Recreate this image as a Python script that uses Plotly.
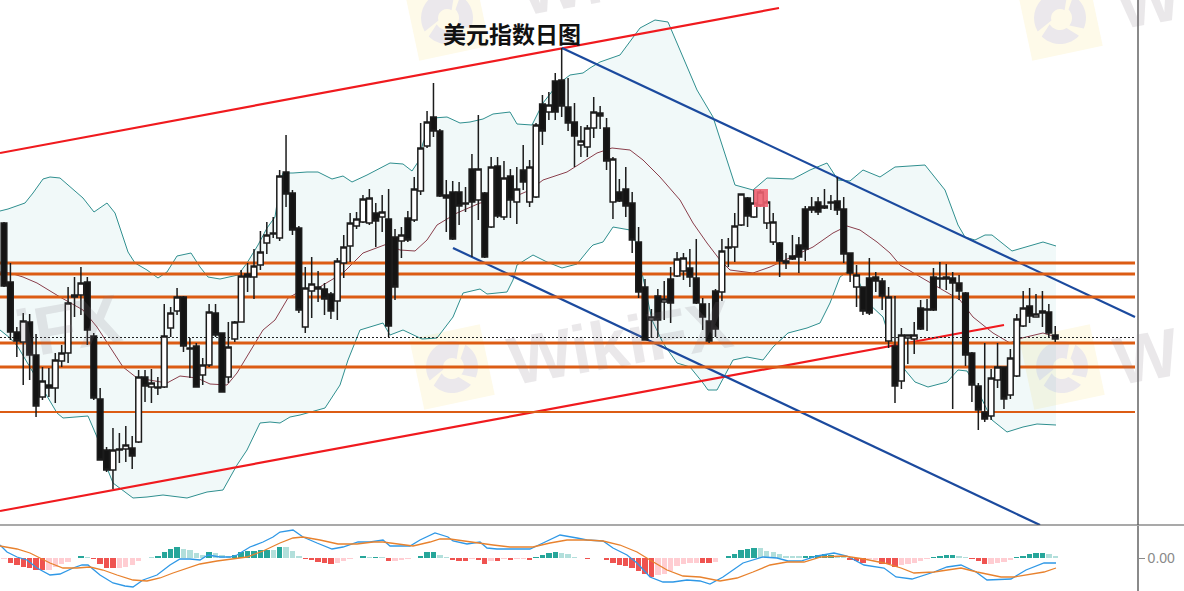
import math
import numpy as np
import plotly.graph_objects as go

TITLE = "美元指数日图"
CANVAS_H = 591
PANE_SPLIT = 525

# candle readings (chart levels counted downwards from the top of the chart)
bar_high = [222,263,327,313,314,334,367,368,353,345,287,277,267,277,333,388,447,428,433,426,436,370,370,369,377,304,307,288,296,338,343,358,304,304,333,322,321,270,263,249,231,222,217,170,135,190,226,
267,257,271,283,292,258,235,213,212,195,189,203,195,189,229,227,211,177,123,111,83,129,180,181,182,187,154,115,192,157,157,161,169,167,145,160,123,95,92,73,48,78,103,126,125,
97,106,118,157,179,167,192,227,279,309,289,281,267,252,253,249,239,298,303,289,239,238,213,194,197,190,190,200,213,242,253,235,237,206,197,197,189,195,177,197,253,265,287,258,272,
278,287,296,328,335,322,300,299,268,262,264,272,275,292,352,383,343,369,343,367,349,314,291,288,294,291,304,326]
bar_low = [287,340,357,385,380,417,400,397,403,367,363,317,315,345,400,460,472,489,463,462,469,443,402,403,395,388,337,315,352,378,387,385,367,337,392,383,342,322,292,299,270,254,238,241,207,235,313,
333,318,302,315,319,320,278,262,229,223,225,247,232,337,300,258,242,222,195,148,137,197,232,240,225,212,257,220,258,228,218,220,218,224,190,207,198,145,120,120,117,131,167,157,157,
138,129,170,219,202,217,253,298,340,338,337,320,323,277,280,287,304,330,343,337,301,267,262,226,227,218,207,229,245,277,269,260,273,261,213,215,209,210,215,263,282,307,315,315,292,
310,348,403,389,364,354,330,331,311,288,290,409,300,366,402,430,422,420,388,409,399,377,327,323,317,327,338,342]
body_top = [223,282,332,321,322,355,381,385,360,353,303,295,283,282,336,399,450,450,449,445,448,377,377,383,387,336,313,297,297,348,346,365,312,313,333,347,322,276,274,266,252,235,233,176,172,193,228,
288,284,287,289,294,261,247,223,219,199,198,213,212,219,237,235,218,189,148,122,117,131,195,192,192,203,169,169,193,167,166,178,176,189,170,167,125,104,105,81,80,107,122,141,128,
112,113,128,159,192,189,203,242,287,317,296,299,279,259,258,268,278,304,321,291,251,247,226,194,198,203,192,202,222,243,261,256,245,209,207,202,206,202,201,209,253,275,287,278,277,
281,297,346,335,335,335,308,309,277,278,277,278,283,293,353,386,412,378,367,367,358,319,308,306,314,311,312,335]
body_bot = [286,332,341,342,355,406,397,388,388,361,353,297,295,330,398,460,470,470,450,449,456,442,386,387,388,387,328,311,346,349,387,375,365,335,392,377,339,322,277,277,265,243,234,238,194,230,310,
327,291,289,299,311,301,263,246,226,222,223,221,217,326,287,241,240,220,191,146,131,196,198,239,206,204,202,200,257,227,216,217,200,202,182,202,197,131,112,112,106,123,136,145,147,
128,116,161,202,201,206,240,292,340,320,320,302,303,276,271,277,303,317,341,329,292,248,247,225,216,217,205,223,242,261,263,259,257,249,210,212,208,203,210,254,273,287,311,313,281,
296,341,386,381,338,339,329,310,310,279,279,283,291,355,385,410,419,416,380,399,395,376,326,316,317,313,333,339]
bar_fall = "bbbwbbwbwwwbwbbbbwbwbwbwbwwwbbbwwbbwwwbwwwbwbbb" \
           "wwbbbwwwwwwbwbbwbwwwbbbbbbbwbwbwbwbwwbwbbbbw" \
           "wwbbwbbbbbwbwbwwbbbbbwbwwbwwwwbbbbbbbbbbbbwb" \
           "bbbwbwwwbwbwbbbbbbbwwbwwwbwwbb"

# Bollinger band readings: position along the chart, level from the top
upper_x = [0,8,25,33,43,50,60,72,83,94,107,115,122,128,135,147,158,167,177,191,200,208,220,238,247,258,267,275,280,283,293,307,318,332,343,352,367,390,403,412,418,423,433,447,460,470,483,493,510,517,532,543,557,570,583,590,600,620,640,655,668,680,697,713,723,735,753,767,793,810,827,838,850,863,880,895,925,945,958,965,975,985,992,1012,1043,1056]
upper_y = [211,209,203,193,179,177,178,188,198,212,203,213,233,252,263,270,278,272,256,253,267,277,279,275,263,245,228,217,183,173,173,172,172,179,176,182,175,163,164,171,162,143,118,117,123,122,119,114,112,124,125,103,85,75,73,68,62,55,28,20,22,50,90,117,147,185,190,178,179,170,163,180,181,170,177,167,165,190,225,237,240,235,235,251,242,246]
lower_x = [0,10,18,43,57,63,88,97,107,113,133,147,163,187,207,223,237,247,260,270,280,290,300,325,340,348,360,383,390,403,422,437,453,463,480,487,507,513,517,533,547,562,577,590,593,603,613,630,635,652,663,677,690,703,708,717,725,733,747,763,773,788,807,820,830,840,847,857,868,883,887,905,915,928,947,958,967,975,992,1007,1023,1037,1056]
lower_y = [330,338,347,390,413,418,416,437,468,483,498,497,495,498,492,490,465,450,423,422,423,417,415,408,385,360,330,323,335,330,339,338,317,293,289,294,292,280,265,255,262,268,264,248,245,242,227,230,240,320,343,363,367,383,390,390,375,360,357,360,347,333,328,323,303,277,272,277,303,317,330,370,382,387,382,370,371,385,420,432,427,424,425]
basis_x = [0,10,23,37,60,83,97,110,123,137,167,180,197,210,227,237,253,263,275,288,297,318,343,363,387,400,415,427,437,457,480,507,530,543,567,590,597,612,630,643,660,680,693,707,720,730,753,770,790,813,833,847,860,877,890,900,917,943,960,973,993,1010,1022,1043,1056]
basis_y = [272,273,277,283,297,310,327,347,367,378,383,376,378,384,385,373,347,330,320,298,293,288,273,253,244,250,251,240,225,213,203,200,190,180,172,157,153,148,150,160,177,200,223,243,260,270,273,267,258,247,233,226,230,242,253,265,275,290,300,317,333,343,338,333,337]

# horizontal support and resistance levels, thin level, last-price level
level_thick = [263, 274, 297, 343, 367]
level_thin = [412]
last_price = [337.5]
level_x = [0, 1135]

# trend lines: [x0, x1], [level0, level1]
red_upper = ([0, 779], [153, 8])
red_lower = ([0, 1004], [511, 325])
blue_upper = ([562, 1135], [48, 317])
blue_lower = ([453, 1040], [248, 525])
marker_box = ([754, 768], [189, 207])

# MACD readings
macd_hist = [-1,-5,-7,-9,-10,-12,-12,-12,-9,-6,-4,0,2,1,-1,-6,-10,-10,-10,-9,-7,-3,0,1,2,6,9,11,9,8,5,3,6,5,3,2,3,6,7,7,8,8,8,11,11,7,2,-1,-2,-4,-5,-6,-5,-3,-1,0,2,1,1,1,-3,-3,
-2,-1,0,2,6,6,3,1,-2,-3,-3,-1,-2,-6,-3,-3,-1,-2,-1,-1,-2,1,3,5,6,5,4,1,0,-1,0,0,-2,-5,-7,-8,-10,-13,-16,-19,-17,-16,-13,-8,-6,-5,-5,-5,-5,-4,0,2,4,8,9,10,10,7,6,4,2,2,2,
2,2,3,4,3,1,1,-2,-3,-5,-1,-2,-6,-6,-9,-7,-6,-5,-3,-1,1,2,3,3,2,1,-1,-3,-6,-6,-5,-4,-2,1,2,4,5,5,4,2]
hist_pale = [0,7,8,9,10,13,18,19,20,21,23,28,29,30,31,33,34,35,42,44,45,46,52,53,54,57,59,61,62,63,68,69,73,76,78,80,81,87,88,89,102,103,104,105,106,107,108,111,118,119,120,121,122,123,124,130,131,135,136,140,141,142,143,144,149,150,154,155,156,157,163,164]
macd_x = [0,7,17,27,37,50,60,73,82,88,100,113,125,133,143,157,170,180,190,200,208,220,230,237,250,263,273,280,293,303,317,332,343,358,370,383,390,400,410,420,435,448,453,467,480,487,497,510,530,543,560,577,587,603,613,627,637,650,663,673,687,700,710,723,743,763,777,788,801,817,834,847,864,884,896,912,934,947,961,976,987,1011,1026,1044,1056]
macd_y = [13,6,1,-2,-10,-17,-16,-10,-7,-7,-17,-25,-28,-29,-22,-17,-7,-1,-1,-2,3,1,1,3,11,16,21,26,28,21,15,9,11,16,16,18,12,12,12,18,25,21,17,14,16,10,9,9,9,15,23,20,18,17,10,3,-5,-19,-24,-24,-22,-23,-26,-19,-5,1,0,-3,-3,2,5,2,-7,-10,-19,-21,-14,-9,-7,-14,-22,-21,-12,-5,-5]
signal_x = [0,17,30,40,50,63,77,90,103,117,133,147,160,173,187,200,217,233,247,263,280,293,303,320,338,357,373,383,400,413,430,440,450,463,480,493,510,533,550,567,587,603,620,637,650,667,683,700,720,737,753,770,787,804,821,844,864,884,901,914,934,961,977,1001,1014,1044,1056]
signal_y = [12,9,5,0,-5,-10,-10,-9,-12,-17,-22,-23,-20,-15,-10,-6,-3,-1,1,7,15,20,21,18,14,14,16,16,14,12,16,19,19,17,15,13,11,11,15,18,18,17,13,6,-2,-12,-18,-19,-23,-20,-14,-7,-4,-4,1,2,-1,-5,-10,-15,-14,-10,-14,-19,-19,-14,-10]
macd_ticks = [0]
macd_labels = ["0.00"]


def lv(values):
    """Level counted from the top of the chart -> value on the price axis."""
    return CANVAS_H - np.asarray(values, dtype=float)


n = len(bar_high)
cx = 4 + 6.41 * np.arange(n)
opens = [t if d == "b" else b for t, b, d in zip(body_top, body_bot, bar_fall)]
closes = [b if d == "b" else t for t, b, d in zip(body_top, body_bot, bar_fall)]

fig = go.Figure()


def line(x, y, color, width, dash="solid", **kw):
    fig.add_trace(go.Scatter(x=x, y=lv(y), mode="lines", hoverinfo="skip", showlegend=False,
                             line=dict(color=color, width=width, dash=dash), **kw))


TEAL = "#2f8f8f"
line(upper_x, upper_y, TEAL, 1)
line(lower_x, lower_y, TEAL, 1, fill="tonexty", fillcolor="rgba(70,170,180,0.075)")
line(basis_x, basis_y, "#8a3f4c", 1)
line(red_upper[0], red_upper[1], "#f01a1e", 2.2)
line(red_lower[0], red_lower[1], "#f01a1e", 2.2)
line(blue_upper[0], blue_upper[1], "#1b4a9e", 2.2)
line(blue_lower[0], blue_lower[1], "#1b4a9e", 2.2)
for lev in level_thick:
    line(level_x, [lev, lev], "#dc5c14", 3)
for lev in level_thin:
    line(level_x, [lev, lev], "#dc5c14", 2)
line(level_x, last_price * 2, "#222222", 1, dash="2px,2px")

fig.add_trace(go.Candlestick(
    x=cx, open=lv(opens), high=lv(bar_high), low=lv(bar_low), close=lv(closes),
    xaxis="x3", yaxis="y3", hoverinfo="skip", showlegend=False, whiskerwidth=0,
    increasing=dict(line=dict(color="#1c1c1c", width=1.5), fillcolor="#ffffff"),
    decreasing=dict(line=dict(color="#1c1c1c", width=1.5), fillcolor="#141414"),
))

hist_colors = []
for i, v in enumerate(macd_hist):
    pale = i in hist_pale
    if v >= 0:
        hist_colors.append("#b2dfdb" if pale else "#26a69a")
    else:
        hist_colors.append("#ffcdd2" if pale else "#ef5350")
fig.add_trace(go.Bar(x=cx, y=macd_hist, width=5.4, xaxis="x2", yaxis="y2", hoverinfo="skip",
                     showlegend=False, marker=dict(color=hist_colors, line=dict(width=0))))
for xs, ys, col in ((macd_x, macd_y, "#2f98e6"), (signal_x, signal_y, "#e8822e")):
    fig.add_trace(go.Scatter(x=xs, y=ys, mode="lines", xaxis="x2", yaxis="y2", hoverinfo="skip",
                             showlegend=False, line=dict(color=col, width=1.3)))

WM_GREY = "rgba(130,118,130,0.17)"
shapes = []


def poly(points):
    return "M" + "L".join(f"{x:.1f},{CANVAS_H - y:.1f}" for x, y in points) + "Z"


def logo(cx0, cy0):
    half, ang = 36, math.radians(-12)
    corners = [(-half, -half), (half, -half), (half, half), (-half, half)]
    pts = [(cx0 + a * math.cos(ang) - b * math.sin(ang), cy0 + a * math.sin(ang) + b * math.cos(ang))
           for a, b in corners]
    shapes.append(dict(type="path", xref="x", yref="y", path=poly(pts), layer="below",
                       fillcolor="#fefae9", line=dict(width=0)))
    # swirl of three wedges, as in the faint emblem of the watermark
    for a0, a1, r0 in ((2.6, 5.0, 9), (5.25, 6.7, 12), (0.75, 2.35, 12)):
        seg = [(cx0 + 26 * math.cos(t), cy0 + 26 * math.sin(t)) for t in np.linspace(a0, a1, 14)]
        seg += [(cx0 + r0 * math.cos(t), cy0 + r0 * math.sin(t)) for t in np.linspace(a1 + 0.25, a0 + 0.25, 10)]
        shapes.append(dict(type="path", xref="x", yref="y", path=poly(seg), layer="below",
                           fillcolor="#ebe8ec", line=dict(width=0)))


for c in ((447, 18), (1060, 18), (452, 367), (1062, 367)):
    logo(*c)

shapes.append(dict(type="rect", xref="x3", yref="y3", x0=marker_box[0][0], x1=marker_box[0][1],
                   y0=CANVAS_H - marker_box[1][1], y1=CANVAS_H - marker_box[1][0],
                   fillcolor="rgba(238,96,112,0.9)", line=dict(width=0), layer="above"))
shapes.append(dict(type="line", xref="paper", yref="paper", x0=0, x1=1,
                   y0=(CANVAS_H - PANE_SPLIT) / CANVAS_H, y1=(CANVAS_H - PANE_SPLIT) / CANVAS_H,
                   line=dict(color="#555555", width=1.2), layer="above"))

annotations = [dict(text=f"<b>{TITLE}</b>", x=512, y=CANVAS_H - 33, xref="x", yref="y", showarrow=False,
                    font=dict(family="Noto Sans CJK SC", size=23, color="#111111"))]
# watermark pieces: visible text, centre on the page, tilted
for txt, wx, wy in (("WikiFX", 620, 342), ("iFX", 68, 326), ("W", 1146, 356), ("W", 1148, 0), ("Wi", 560, -15)):
    annotations.append(dict(text=f"<b>{txt}</b>", x=wx / 1184, y=1 - wy / CANVAS_H, xref="paper", yref="paper",
                            xanchor="center", yanchor="middle", showarrow=False, textangle=-10,
                            font=dict(family="Liberation Sans", size=68, color=WM_GREY)))

X_END = 1137
xdom = [0, X_END / 1184]
main_dom = [(CANVAS_H - PANE_SPLIT) / CANVAS_H, 1]
macd_dom = [0, (CANVAS_H - PANE_SPLIT - 1) / CANVAS_H]
hidden_x = dict(domain=xdom, range=[0, X_END], visible=False, fixedrange=True)
fig.update_layout(
    width=1184, height=591, margin=dict(l=0, r=0, t=0, b=0),
    paper_bgcolor="#ffffff", plot_bgcolor="#ffffff", showlegend=False, bargap=0,
    boxgap=0.12, boxgroupgap=0, boxmode="overlay",
    xaxis=dict(hidden_x, anchor="y"),
    xaxis2=dict(hidden_x, anchor="y2"),
    xaxis3=dict(hidden_x, anchor="y3", overlaying="x", rangeslider=dict(visible=False)),
    yaxis=dict(domain=main_dom, range=[CANVAS_H - PANE_SPLIT, CANVAS_H], side="right", anchor="x",
               showline=True, linecolor="#8a8a8a", linewidth=1.6, showgrid=False, zeroline=False,
               showticklabels=False, ticks="", fixedrange=True),
    yaxis2=dict(domain=macd_dom, range=[-33, 32], side="right", anchor="x2",
                showline=True, linecolor="#8a8a8a", linewidth=1.6, showgrid=False, zeroline=False,
                tickmode="array", tickvals=macd_ticks, ticktext=macd_labels, ticks="outside", ticklen=6,
                tickcolor="#8a8a8a", tickwidth=1.2,
                tickfont=dict(family="Liberation Sans", size=14, color="#8a8a8a"), fixedrange=True),
    yaxis3=dict(domain=main_dom, range=[CANVAS_H - PANE_SPLIT, CANVAS_H], anchor="x3", overlaying="y",
                visible=False, fixedrange=True),
    shapes=shapes, annotations=annotations,
)

fig.write_html("out.html", config={"displayModeBar": False},
               post_script="document.body.style.margin='0';document.body.style.overflow='hidden';")
